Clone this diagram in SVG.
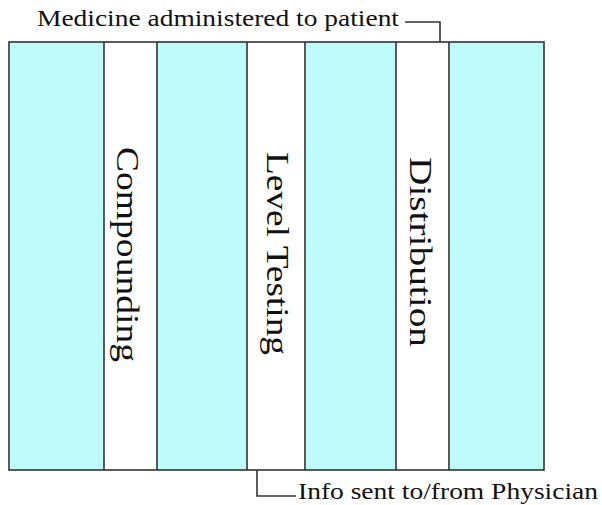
<svg xmlns="http://www.w3.org/2000/svg" width="602" height="505" viewBox="0 0 602 505">
<style>
.cy{fill:#bffbf9;stroke:none}
.ln{stroke:#333;stroke-width:1.6;fill:none}
.lbl{font-family:"Liberation Serif","DejaVu Serif",serif;fill:#111}
.vt{font-family:"Liberation Serif","DejaVu Serif",serif;font-size:32px;fill:#111}
</style>
<rect x="0" y="0" width="602" height="505" fill="#fff"/>
<g id="lanes">
<rect class="cy" x="9" y="42" width="95" height="428"/>
<rect class="cy" x="157" y="42" width="90" height="428"/>
<rect class="cy" x="305" y="42" width="91" height="428"/>
<rect class="cy" x="449" y="42" width="95" height="428"/>
<rect class="ln" x="9" y="42" width="535" height="428"/>
<line class="ln" x1="104" y1="42" x2="104" y2="470"/>
<line class="ln" x1="157" y1="42" x2="157" y2="470"/>
<line class="ln" x1="247" y1="42" x2="247" y2="470"/>
<line class="ln" x1="305" y1="42" x2="305" y2="470"/>
<line class="ln" x1="396" y1="42" x2="396" y2="470"/>
<line class="ln" x1="449" y1="42" x2="449" y2="470"/>
</g>
<g id="compounding">
<text class="vt" transform="translate(117,147) rotate(90)" textLength="215" lengthAdjust="spacingAndGlyphs">Compounding</text>
</g>
<g id="level-testing">
<text class="vt" transform="translate(267,152) rotate(90)" textLength="203" lengthAdjust="spacingAndGlyphs">Level Testing</text>
</g>
<g id="distribution">
<text class="vt" transform="translate(410,157) rotate(90)" textLength="190" lengthAdjust="spacingAndGlyphs">Distribution</text>
</g>
<g id="connectors">
<polyline class="ln" points="405,22 440,22 440,42"/>
<polyline class="ln" points="257,470 257,496 296,496"/>
</g>
<g id="top-label">
<text class="lbl" x="37" y="26" font-size="23" textLength="362" lengthAdjust="spacingAndGlyphs">Medicine administered to patient</text>
</g>
<g id="bottom-label">
<text class="lbl" x="298" y="499" font-size="23" textLength="300" lengthAdjust="spacingAndGlyphs">Info sent to/from Physician</text>
</g>
</svg>
